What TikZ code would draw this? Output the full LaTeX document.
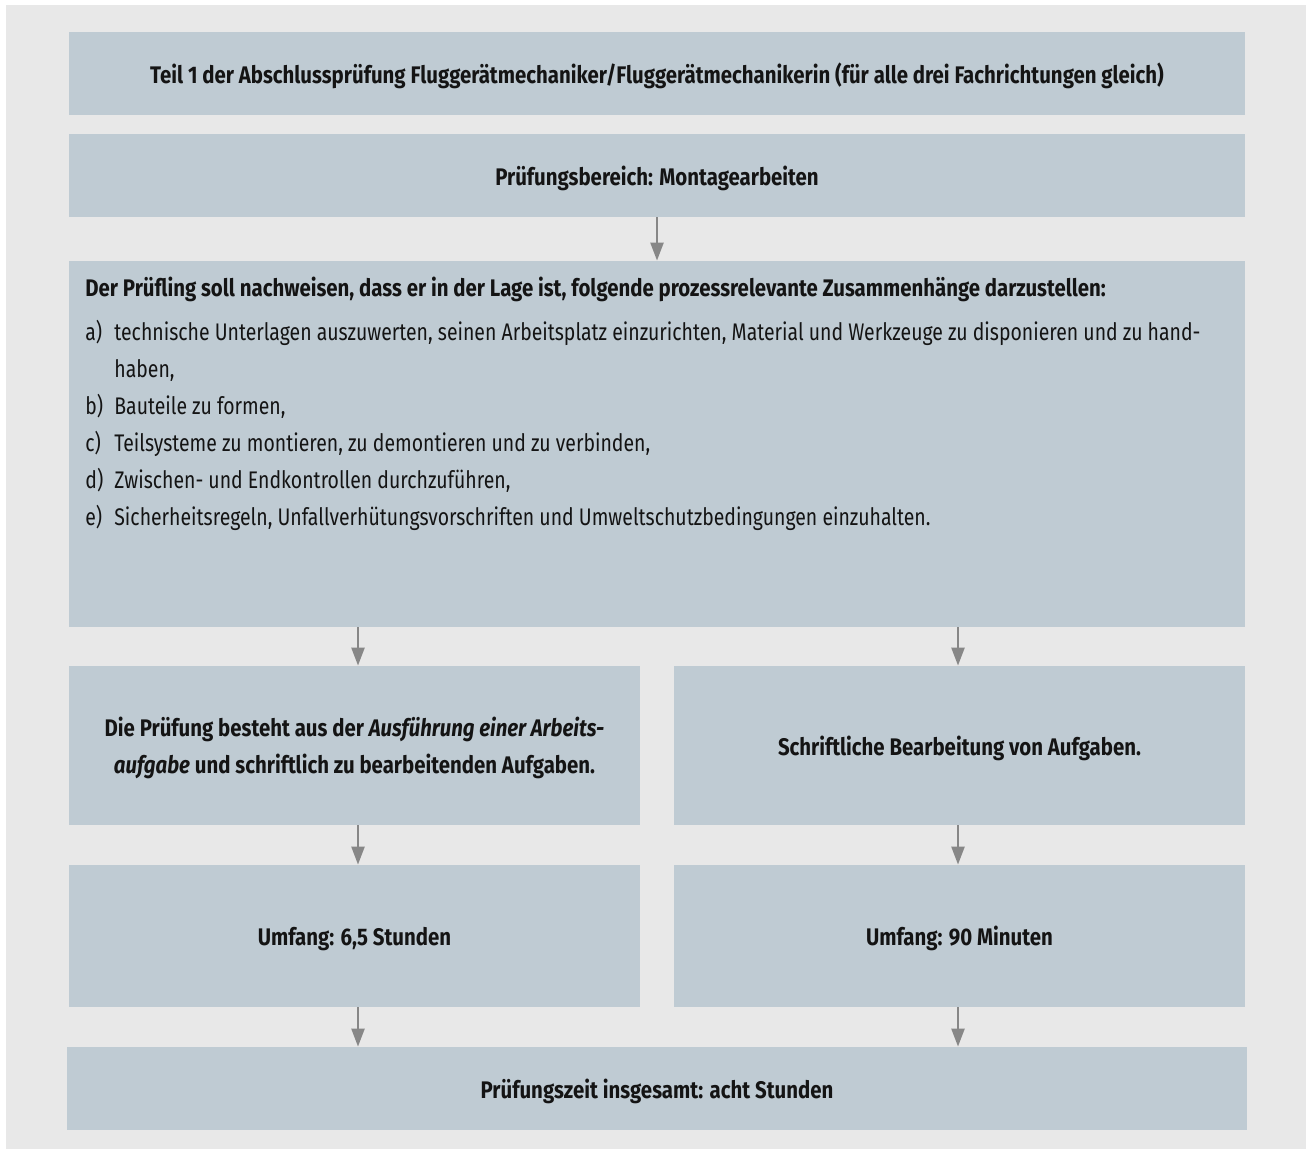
\documentclass[tikz,border=0pt]{standalone}
\usepackage{fontspec}
\setmainfont{Fira Sans}[FakeStretch=0.81,
    BoldFeatures={FakeStretch=0.85}, BoldItalicFeatures={FakeStretch=0.85}]
\usetikzlibrary{arrows.meta}
\definecolor{boxblue}{HTML}{BFCBD3}
\definecolor{bggray}{HTML}{E8E8E8}
\definecolor{arrowgray}{HTML}{878787}
\newcommand{\punkt}[2]{\par\hangindent=14.5pt\hangafter=1\makebox[14.5pt][l]{#1}#2}
\tikzset{
    box/.style={fill=boxblue, inner sep=0pt, align=center, text=black!92, text depth=0pt,
        font=\bfseries\fontsize{12}{18.5}\selectfont},
    liste/.style={inner sep=0pt, align=flush left, text=black!92, text width=580pt,
        font=\fontsize{12}{18.5}\selectfont},
    pfeil/.style={draw=arrowgray, line width=1.2pt, -{Triangle[width=6.5pt,length=9pt]}},
}
\begin{document}
\begin{tikzpicture}[x=0.5pt,y=-0.5pt]
        % background
        \fill[white] (0,0) rectangle (1306,1149);
        \fill[bggray] (6,5) rectangle (1306,1149);

        % boxes
        \node[box, minimum width=588pt, minimum height=41.5pt] (teil) at (657,73.5)
            {Teil 1 der Abschlussprüfung Fluggerätmechaniker/Fluggerätmechanikerin (für alle drei Fachrichtungen gleich)};
        \node[box, minimum width=588pt, minimum height=41.5pt] (bereich) at (657,175.5)
            {Prüfungsbereich: Montagearbeiten};
        \node[box, minimum width=588pt, minimum height=183pt] (nachweis) at (657,444) {};
        \node[liste, anchor=north west] (punkte) at (85,277) {%
            \textbf{Der Prüfling soll nachweisen, dass er in der Lage ist, folgende prozessrelevante Zusammenhänge darzustellen:}\par\vspace{3.5pt}
            \punkt{a)}{technische Unterlagen auszuwerten, seinen Arbeitsplatz einzurichten, Material und Werkzeuge zu disponieren und zu hand-\newline haben,}
            \punkt{b)}{Bauteile zu formen,}
            \punkt{c)}{Teilsysteme zu montieren, zu demontieren und zu verbinden,}
            \punkt{d)}{Zwischen- und Endkontrollen durchzuführen,}
            \punkt{e)}{Sicherheitsregeln, Unfallverhütungsvorschriften und Umweltschutzbedingungen einzuhalten.}};
        \node[box, minimum width=285.5pt, minimum height=79.5pt] (aufgabeL) at (354.5,745.5)
            {Die Prüfung besteht aus der \textit{Ausführung einer Arbeits-}\\\textit{aufgabe} und schriftlich zu bearbeitenden Aufgaben.};
        \node[box, minimum width=285.5pt, minimum height=79.5pt] (aufgabeR) at (959.5,745.5)
            {Schriftliche Bearbeitung von Aufgaben.};
        \node[box, minimum width=285.5pt, minimum height=71pt] (umfangL) at (354.5,936)
            {Umfang: 6,5 Stunden};
        \node[box, minimum width=285.5pt, minimum height=71pt] (umfangR) at (959.5,936)
            {Umfang: 90 Minuten};
        \node[box, minimum width=590pt, minimum height=41.5pt] (zeit) at (657,1088.5)
            {Prüfungszeit insgesamt: acht Stunden};

        % arrows
        \coordinate (spurL) at (358,0);
        \coordinate (spurR) at (958,0);
        \draw[pfeil] (bereich) -- (nachweis);
        \foreach \s/\a/\u in {spurL/aufgabeL/umfangL, spurR/aufgabeR/umfangR} {
            \draw[pfeil] (nachweis.south -| \s) -- (\a.north -| \s);
            \draw[pfeil] (\a.south -| \s) -- (\u.north -| \s);
            \draw[pfeil] (\u.south -| \s) -- (zeit.north -| \s);
        }
\end{tikzpicture}
\end{document}
